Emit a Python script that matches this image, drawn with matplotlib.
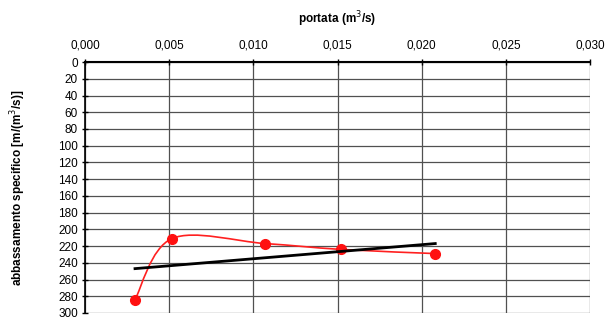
import numpy as np
import matplotlib.pyplot as plt
from matplotlib.path import Path
from matplotlib.patches import PathPatch

plt.rcParams['font.family'] = ['Liberation Sans', 'DejaVu Sans']

# measured points (red, smoothed line)
portata = [0.00297, 0.00517, 0.0107, 0.0152, 0.0208]
abbass = [284, 211, 217, 224, 229]

# trend line (black)
trend_x = [0.00297, 0.0208]
trend_y = [247, 217]

xticks = [0.000, 0.005, 0.010, 0.015, 0.020, 0.025, 0.030]
yticks = list(range(0, 301, 20))

fig = plt.figure(figsize=(6.05, 3.2), dpi=100)
ax = fig.add_axes([0.1405, 0.022, 0.835, 0.784])

ax.set_xlim(0, 0.030)
ax.set_ylim(300, 0)
ax.set_xticks(xticks)
ax.set_yticks(yticks)
ax.set_xticklabels([('%.3f' % v).replace('.', ',') for v in xticks], fontsize=8.5)
ax.set_yticklabels([str(v) for v in yticks], fontsize=8.5)
ax.xaxis.tick_top()
ax.xaxis.set_label_position('top')
ax.tick_params(axis='x', direction='inout', length=5, width=1, pad=5)
ax.tick_params(axis='y', direction='inout', length=4, width=1, pad=3)

ax.grid(True, color='#505050', linewidth=0.9)
ax.set_axisbelow(True)
for s in ['right', 'bottom']:
    ax.spines[s].set_visible(False)
ax.spines['top'].set_linewidth(1.5)
ax.spines['left'].set_linewidth(1.2)

ax.set_xlabel('portata (m$^3$/s)', fontsize=8.5, fontweight='bold', labelpad=12)
ax.set_ylabel('abbassamento specifico [m/(m$^3$/s)]', fontsize=8.5, fontweight='bold', labelpad=22)

# smoothed curve (Catmull-Rom as bezier)
px = np.array(portata)
py = np.array(abbass, dtype=float)
verts = [(px[0], py[0])]
codes = [Path.MOVETO]
n = len(px)
for i in range(n - 1):
    p0 = (px[max(i - 1, 0)], py[max(i - 1, 0)])
    p1 = (px[i], py[i])
    p2 = (px[i + 1], py[i + 1])
    p3 = (px[min(i + 2, n - 1)], py[min(i + 2, n - 1)])
    c1 = (p1[0] + (p2[0] - p0[0]) / 6, p1[1] + (p2[1] - p0[1]) / 6)
    c2 = (p2[0] - (p3[0] - p1[0]) / 6, p2[1] - (p3[1] - p1[1]) / 6)
    verts += [c1, c2, p2]
    codes += [Path.CURVE4] * 3
ax.add_patch(PathPatch(Path(verts, codes), facecolor='none', edgecolor='#ff2020', lw=1.2, zorder=3))
ax.plot(portata, abbass, 'o', color='#ff1010', markersize=7, zorder=4, clip_on=False)

ax.plot(trend_x, trend_y, color='black', lw=2, zorder=5)

fig.savefig('out.png', dpi=100)
